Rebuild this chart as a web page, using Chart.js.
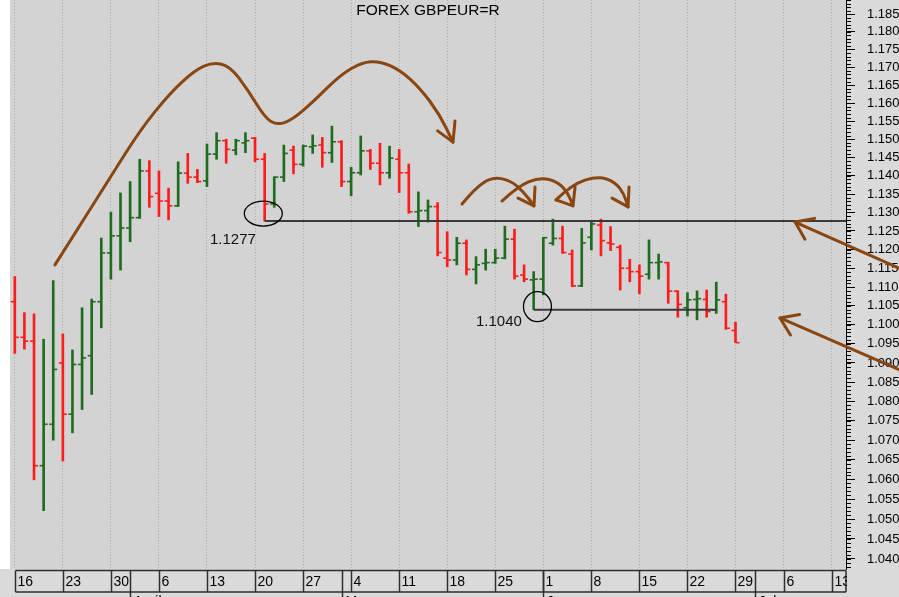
<!DOCTYPE html>
<html>
<head>
<meta charset="utf-8">
<script src="https://cdn.jsdelivr.net/npm/chart.js@4.4.1/dist/chart.umd.min.js"></script>
<style>
  html, body { margin: 0; padding: 0; background: #fff; overflow: hidden; }
</style>
</head>
<body>
<canvas id="chart" width="899" height="597"></canvas>
<script>
// trading days shown on the axis (Mar 16 .. Jul 14)
const days = [
  'Mar 16','Mar 17','Mar 18','Mar 19','Mar 20','Mar 23','Mar 24','Mar 25','Mar 26','Mar 27','Mar 30','Mar 31',
  'Apr 1','Apr 2','Apr 3','Apr 6','Apr 7','Apr 8','Apr 9','Apr 10','Apr 13','Apr 14','Apr 15','Apr 16','Apr 17',
  'Apr 20','Apr 21','Apr 22','Apr 23','Apr 24','Apr 27','Apr 28','Apr 29','Apr 30',
  'May 1','May 4','May 5','May 6','May 7','May 8','May 11','May 12','May 13','May 14','May 15',
  'May 18','May 19','May 20','May 21','May 22','May 25','May 26','May 27','May 28','May 29',
  'Jun 1','Jun 2','Jun 3','Jun 4','Jun 5','Jun 8','Jun 9','Jun 10','Jun 11','Jun 12',
  'Jun 15','Jun 16','Jun 17','Jun 18','Jun 19','Jun 22','Jun 23','Jun 24','Jun 25','Jun 26','Jun 29','Jun 30',
  'Jul 1','Jul 2','Jul 3','Jul 6','Jul 7','Jul 8','Jul 9','Jul 10','Jul 13','Jul 14'
];

const opens = [
  1.1061, 1.0967, 1.0957, 1.0635, 1.0741, 1.0900, 1.0767, 1.0896, 1.0919, 1.1061,
  1.1191, 1.1237, 1.1258, 1.1286, 1.1413, 1.1352, 1.1331, 1.1318, 1.1407, 1.1396,
  1.1386, 1.1459, 1.1496, 1.1470, 1.1490, 1.1503, 1.1445, 1.1323, 1.1396, 1.1470,
  1.1431, 1.1479, 1.1484, 1.1463, 1.1493, 1.1384, 1.1408, 1.1468, 1.1434, 1.1408,
  1.1445, 1.1408, 1.1302, 1.1305, 1.1316, 1.1177, 1.1172, 1.1217, 1.1147, 1.1163,
  1.1165, 1.1177, 1.1228, 1.1132, 1.1119, 1.1121, 1.1217, 1.1230, 1.1188, 1.1103,
  1.1233, 1.1266, 1.1218, 1.1206, 1.1150, 1.1141, 1.1134, 1.1165, 1.1165, 1.1089,
  1.1045, 1.1067, 1.1067, 1.1039, 1.1061, 1.0985
];
const highs = [
  1.1128, 1.1032, 1.1029, 1.0962, 1.1117, 1.0976, 1.0934, 1.1045, 1.1068, 1.1231,
  1.1301, 1.1353, 1.1384, 1.1445, 1.1441, 1.1413, 1.1366, 1.1438, 1.1461, 1.1417,
  1.1487, 1.1518, 1.1500, 1.1500, 1.1518, 1.1505, 1.1461, 1.1397, 1.1484, 1.1481,
  1.1484, 1.1512, 1.1505, 1.1536, 1.1496, 1.1423, 1.1509, 1.1472, 1.1489, 1.1481,
  1.1472, 1.1432, 1.1356, 1.1334, 1.1327, 1.1248, 1.1233, 1.1226, 1.1181, 1.1201,
  1.1201, 1.1263, 1.1255, 1.1159, 1.1141, 1.1233, 1.1282, 1.1263, 1.1199, 1.1257,
  1.1275, 1.1282, 1.1262, 1.1212, 1.1174, 1.1159, 1.1226, 1.1188, 1.1166, 1.1090,
  1.1085, 1.1090, 1.1092, 1.1113, 1.1081, 1.1007
];
const lows = [
  1.0925, 1.0936, 1.0599, 1.0521, 1.0700, 1.0647, 1.0719, 1.0779, 1.0818, 1.0992,
  1.1121, 1.1145, 1.1221, 1.1284, 1.1314, 1.1289, 1.1280, 1.1316, 1.1379, 1.1381,
  1.1370, 1.1445, 1.1434, 1.1457, 1.1463, 1.1438, 1.1277, 1.1314, 1.1384, 1.1405,
  1.1426, 1.1461, 1.1423, 1.1436, 1.1370, 1.1345, 1.1402, 1.1417, 1.1375, 1.1393,
  1.1354, 1.1298, 1.1262, 1.1274, 1.1183, 1.1154, 1.1159, 1.1132, 1.1108, 1.1145,
  1.1163, 1.1175, 1.1121, 1.1114, 1.1040, 1.1079, 1.1212, 1.1190, 1.1101, 1.1101,
  1.1199, 1.1183, 1.1197, 1.1092, 1.1114, 1.1082, 1.1121, 1.1121, 1.1057, 1.1020,
  1.1023, 1.1013, 1.1020, 1.1030, 1.0988, 1.0953
];
const closes = [
  1.0967, 1.0957, 1.0635, 1.0741, 1.0883, 1.0767, 1.0896, 1.0913, 1.1061, 1.1191,
  1.1237, 1.1258, 1.1286, 1.1413, 1.1343, 1.1331, 1.1318, 1.1407, 1.1396, 1.1384,
  1.1459, 1.1496, 1.1472, 1.1496, 1.1496, 1.1445, 1.1323, 1.1396, 1.1461, 1.1431,
  1.1481, 1.1482, 1.1463, 1.1493, 1.1384, 1.1408, 1.1468, 1.1434, 1.1408, 1.1448,
  1.1408, 1.1302, 1.1305, 1.1316, 1.1192, 1.1172, 1.1217, 1.1147, 1.1159, 1.1165,
  1.1177, 1.1228, 1.1129, 1.1121, 1.1121, 1.1232, 1.1230, 1.1192, 1.1103, 1.1218,
  1.1269, 1.1224, 1.1215, 1.1150, 1.1141, 1.1129, 1.1165, 1.1167, 1.1089, 1.1054,
  1.1066, 1.1069, 1.1035, 1.1066, 1.0991, 1.0953
];

// axis labels
const weekStarts = ['Mar 16','Mar 23','Mar 30','Apr 6','Apr 13','Apr 20','Apr 27','May 4','May 11',
  'May 18','May 25','Jun 1','Jun 8','Jun 15','Jun 22','Jun 29','Jul 6','Jul 13'];
const weekLabels = ['16','23','30','6','13','20','27','4','11','18','25','1','8','15','22','29','6','13'];
const monthStarts = ['Apr 1','May 1','Jun 1','Jul 1'];
const monthLabels = ['April','May','June','July'];
const priceTicks = [1.040,1.045,1.050,1.055,1.060,1.065,1.070,1.075,1.080,1.085,1.090,1.095,1.100,
  1.105,1.110,1.115,1.120,1.125,1.130,1.135,1.140,1.145,1.150,1.155,1.160,1.165,1.170,1.175,1.180,1.185];

// hand-drawn notes, as [day index, price]
const notePeaks = [[4.18,1.1159],[6.79,1.1266],[9.91,1.1394],[13.03,1.1525],[16.15,1.1628],[18.75,1.1692],
  [20.63,1.1714],[22.4,1.1703],[24.27,1.1636],[26.04,1.1559],[27.29,1.1539],[28.85,1.1553],[31.24,1.1608],
  [33.84,1.1678],[36.13,1.1714],[38.01,1.1717],[40.09,1.1692],[42.17,1.1642],[44.25,1.1567],[45.6,1.1492]];
const notePeaksHead = [[44.0,1.1523],[45.6,1.1492],[45.81,1.1550]];
const noteHops = [
  [[46.54,1.1323],[47.89,1.1366],[49.66,1.1396],[51.53,1.1388],[52.99,1.1355],[54.03,1.1318]],
  [[50.70,1.1331],[52.37,1.1371],[54.66,1.1396],[56.53,1.1383],[57.57,1.1352],[58.09,1.1318]],
  [[56.32,1.1334],[57.99,1.1377],[60.69,1.1399],[62.46,1.1383],[63.40,1.1350],[63.82,1.1315]]
];
const noteHopHeads = [
  [[52.37,1.1339],[54.03,1.1318],[54.14,1.1369]],
  [[56.32,1.1334],[58.09,1.1318],[58.30,1.1369]],
  [[62.15,1.1339],[63.82,1.1315],[63.92,1.1369]]
];
const noteArrows = [
  [[92.64,1.1143],[81.20,1.1274]],
  [[92.64,1.0876],[79.63,1.1018]]
];
const noteArrowHeads = [
  [[82.23,1.1228],[81.20,1.1274],[83.24,1.1284]],
  [[80.72,1.0973],[79.63,1.1018],[81.67,1.1027]]
];
const supportLevels = [
  { from: 26, to: null, value: 1.1277, text: '1.1277', ring: [25.86, 1.1297, 19, 12.5], label: [20.31, 1.1226] },
  { from: 54, to: 73, value: 1.1040, text: '1.1040', ring: [54.39, 1.1048, 14, 15], label: [47.99, 1.1007] }
];

const UP = '#1f6b1f';
const DOWN = '#ff1c1c';
const BROWN = '#8a4610';
const barColors = opens.map((o, i) => closes[i] >= o ? UP : DOWN);

Chart.defaults.font.family = "'Liberation Sans', Arial, sans-serif";

const paint = {
  id: 'paint',
  beforeDraw(chart) {
    const { ctx, chartArea: a, width, height } = chart;
    ctx.save();
    ctx.fillStyle = '#dadada';
    ctx.fillRect(0, 0, width, height);
    ctx.fillStyle = '#ffffff';
    ctx.fillRect(0, 0, a.left, a.bottom);
    ctx.fillStyle = '#d3d3d3';
    ctx.fillRect(a.left, a.top, a.right - a.left, a.bottom - a.top);
    ctx.restore();
  },
  afterDatasetsDraw(chart) {
    // open / close ticks
    const { ctx, scales: { x, y } } = chart;
    ctx.save();
    opens.forEach((o, i) => {
      const px = x.getPixelForValue(i);
      ctx.fillStyle = barColors[i];
      ctx.fillRect(px - 4, y.getPixelForValue(o) - 0.8, 4, 1.6);
      ctx.fillRect(px, y.getPixelForValue(closes[i]) - 0.8, 4, 1.6);
    });
    ctx.restore();
  },
  afterDraw(chart) {
    const { ctx, chartArea: a, scales: { x, y }, height } = chart;
    const P = p => [x.getPixelForValue(p[0]), y.getPixelForValue(p[1])];
    const line = (x1, y1, x2, y2) => { ctx.beginPath(); ctx.moveTo(x1, y1); ctx.lineTo(x2, y2); ctx.stroke(); };

    // minor ticks on the price ruler
    ctx.save();
    ctx.strokeStyle = '#000';
    ctx.lineWidth = 1;
    for (let k = 1038; k <= 1189; k++) {
      const py = Math.round(y.getPixelForValue(k / 1000)) + 0.5;
      line(a.right, py, a.right + 5, py);
    }
    ctx.restore();

    // date row
    ctx.save();
    ctx.beginPath();
    ctx.rect(0, a.bottom, a.right + 1, height - a.bottom);
    ctx.clip();
    const rowTop = a.bottom + 1.5, rowBot = a.bottom + 23;
    const first = Math.round(x.getPixelForValue(0)) + 0.5;
    ctx.strokeStyle = '#2e2e2e';
    ctx.lineWidth = 1.5;
    line(first, rowTop, a.right, rowTop);
    line(first, rowBot, a.right, rowBot);
    line(a.right, rowTop, a.right, rowBot);
    ctx.fillStyle = '#000';
    ctx.font = "14px 'Liberation Sans', Arial, sans-serif";
    ctx.textBaseline = 'middle';
    ctx.textAlign = 'left';
    weekStarts.forEach((d, k) => {
      const px = Math.round(x.getPixelForValue(days.indexOf(d))) + 0.5;
      line(px, rowTop, px, rowBot);
      ctx.fillText(weekLabels[k], px + 2, (rowTop + rowBot) / 2 + 1);
    });
    ctx.textBaseline = 'top';
    monthStarts.forEach((d, k) => {
      const px = Math.round(x.getPixelForValue(days.indexOf(d))) + 0.5;
      line(px, rowTop, px, height);
      ctx.fillText(monthLabels[k], px + 3, rowBot + 3);
    });
    ctx.restore();

    // support lines, rings and values
    ctx.save();
    supportLevels.forEach(s => {
      const py = y.getPixelForValue(s.value);
      const x2 = s.to === null ? a.right : x.getPixelForValue(s.to);
      ctx.strokeStyle = '#3a3a3a';
      ctx.lineWidth = 2;
      line(x.getPixelForValue(s.from), py, x2, py);
      const [cx, cy] = P(s.ring);
      ctx.strokeStyle = '#000';
      ctx.lineWidth = 1.3;
      ctx.beginPath();
      ctx.ellipse(cx, cy, s.ring[2], s.ring[3], 0, 0, Math.PI * 2);
      ctx.stroke();
      const [tx, ty] = P(s.label);
      ctx.fillStyle = '#111';
      ctx.font = "15px 'Liberation Sans', Arial, sans-serif";
      ctx.textBaseline = 'middle';
      ctx.fillText(s.text, tx, ty);
    });
    ctx.restore();

    // brown sketch
    ctx.save();
    ctx.strokeStyle = BROWN;
    ctx.lineWidth = 3;
    ctx.lineCap = 'round';
    ctx.lineJoin = 'round';
    const curve = pts => {
      const q = pts.map(P);
      ctx.beginPath();
      ctx.moveTo(q[0][0], q[0][1]);
      for (let i = 1; i < q.length - 1; i++) {
        const mx = (q[i][0] + q[i + 1][0]) / 2, my = (q[i][1] + q[i + 1][1]) / 2;
        ctx.quadraticCurveTo(q[i][0], q[i][1], mx, my);
      }
      ctx.lineTo(q[q.length - 1][0], q[q.length - 1][1]);
      ctx.stroke();
    };
    const poly = pts => {
      const q = pts.map(P);
      ctx.beginPath();
      ctx.moveTo(q[0][0], q[0][1]);
      q.slice(1).forEach(p => ctx.lineTo(p[0], p[1]));
      ctx.stroke();
    };
    curve(notePeaks);
    poly(notePeaksHead);
    noteHops.forEach(curve);
    noteHopHeads.forEach(poly);
    noteArrows.forEach(poly);
    noteArrowHeads.forEach(poly);
    ctx.restore();

    // title
    ctx.save();
    ctx.fillStyle = '#000';
    ctx.font = "15.5px 'Liberation Sans', Arial, sans-serif";
    ctx.textAlign = 'center';
    ctx.textBaseline = 'middle';
    ctx.fillText('FOREX GBPEUR=R', 428, 11);
    ctx.restore();
  }
};

new Chart(document.getElementById('chart'), {
  type: 'bar',
  data: {
    labels: days,
    datasets: [{
      data: days.map((d, i) => highs[i] === undefined ? null : [lows[i], highs[i]]),
      backgroundColor: barColors,
      borderWidth: 0,
      barThickness: 2
    }]
  },
  options: {
    responsive: false,
    animation: false,
    devicePixelRatio: 1,
    layout: { padding: { left: 10, right: 0, top: 0, bottom: 0 } },
    plugins: { legend: { display: false }, tooltip: { enabled: false } },
    scales: {
      x: {
        type: 'category',
        offset: true,
        ticks: { display: false, autoSkip: false },
        grid: {
          offset: false,
          drawTicks: false,
          lineWidth: 1,
          color: c => weekStarts.includes(days[c.index]) ? '#ababab' : 'rgba(0,0,0,0)'
        },
        border: { display: false, dash: [1, 2] },
        afterFit: s => { s.height = 28; s.paddingLeft = 0; s.paddingRight = 0; }
      },
      y: {
        type: 'logarithmic',
        position: 'right',
        min: 1.0375,
        max: 1.189,
        afterBuildTicks: s => { s.ticks = priceTicks.map(v => ({ value: v })); },
        ticks: {
          color: '#000',
          padding: 12,
          font: { size: 13 },
          callback: v => Number(v).toFixed(3)
        },
        grid: { drawOnChartArea: false, drawTicks: true, tickLength: 9, tickColor: '#000', tickWidth: 1 },
        border: { display: true, color: '#000', width: 1 },
        afterFit: s => { s.width = 53; s.paddingTop = 0; s.paddingBottom = 0; }
      }
    }
  },
  plugins: [paint]
});
</script>
</body>
</html>
